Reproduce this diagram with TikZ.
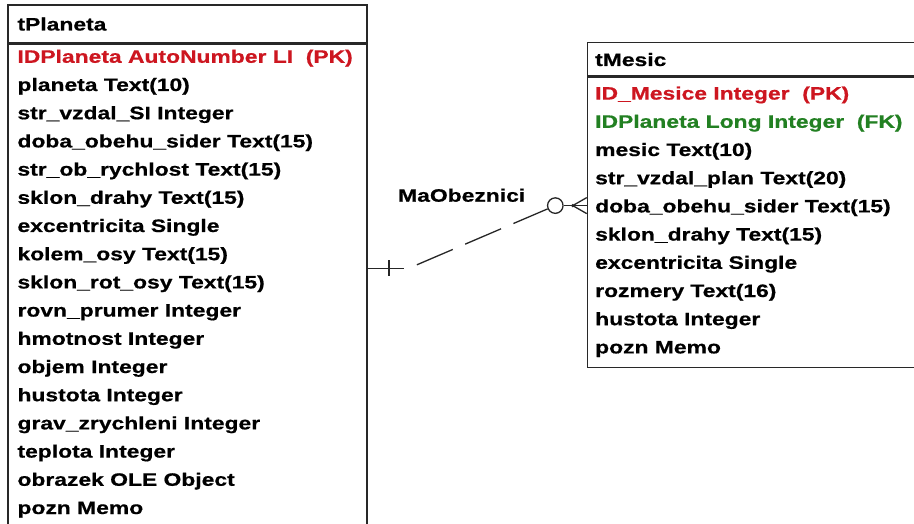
\documentclass[tikz,border=0pt]{standalone}
\usepackage{fontspec}
\usetikzlibrary{calc}
\newfontfamily\erfont{Liberation Sans Bold}[FakeStretch=1.27, FakeBold=0.6]
\definecolor{pkred}{RGB}{205,22,32}
\definecolor{fkgreen}{RGB}{34,128,34}
\definecolor{edgegray}{RGB}{40,40,40}

\begin{document}
\begin{tikzpicture}[x=1pt,y=-1pt,
  tablebox/.style={draw=edgegray, line width=1.6pt, fill=white, rectangle,
    inner sep=0pt, anchor=north west},
  fieldtext/.style={font=\erfont\fontsize{18}{21}\selectfont,
    inner sep=0pt, anchor=base west},
  relline/.style={line width=1.3pt, draw=black!85},
  reldash/.style={relline, dash pattern=on 39pt off 13.5pt}]

\useasboundingbox (0,0) rectangle (914,524);
\clip (0,0) rectangle (914,524);
\fill[white] (0,0) rectangle (914,524);

% ---- table tPlaneta ----
\node[tablebox, minimum width=359pt, minimum height=38pt] (planetaHead) at (7.3,4) {};
\node[tablebox, minimum width=359pt, minimum height=480pt] (planetaBody) at (planetaHead.south west) {};
\node[fieldtext] (planetaTitle) at ($(planetaHead.north west)+(10,26.5)$) {tPlaneta};
\foreach \txt [count=\i] in {
  {\textcolor{pkred}{IDPlaneta AutoNumber LI~~(PK)}},
  planeta Text(10),
  str\_vzdal\_SI Integer,
  doba\_obehu\_sider Text(15),
  str\_ob\_rychlost Text(15),
  sklon\_drahy Text(15),
  excentricita Single,
  kolem\_osy Text(15),
  sklon\_rot\_osy Text(15),
  rovn\_prumer Integer,
  hmotnost Integer,
  objem Integer,
  hustota Integer,
  grav\_zrychleni Integer,
  teplota Integer,
  obrazek OLE Object,
  pozn Memo}
  \node[fieldtext] (pf\i) at ($(planetaBody.north west)+(10,28.2*\i-9)$) {\txt};

% ---- table tMesic ----
\node[tablebox, minimum width=340pt, minimum height=33.3pt] (mesicHead) at (586.7,41.7) {};
\node[tablebox, minimum width=340pt, minimum height=290pt] (mesicBody) at (mesicHead.south west) {};
\node[fieldtext] (mesicTitle) at ($(mesicHead.north west)+(8.3,24.3)$) {tMesic};
\foreach \txt [count=\i] in {
  {\textcolor{pkred}{ID\_Mesice Integer~~(PK)}},
  {\textcolor{fkgreen}{IDPlaneta Long Integer~~(FK)}},
  mesic Text(10),
  str\_vzdal\_plan Text(20),
  doba\_obehu\_sider Text(15),
  sklon\_drahy Text(15),
  excentricita Single,
  rozmery Text(16),
  hustota Integer,
  pozn Memo}
  \node[fieldtext] (mf\i) at ($(mesicBody.north west)+(8.3,28.2*\i-5.2)$) {\txt};

% ---- relationship MaObeznici (one tPlaneta : many tMesic) ----
\coordinate (oneEnd) at ($(planetaBody.north east)+(0,224.7)$);
\coordinate (oneTip) at ($(oneEnd)+(36,0)$);
\coordinate (oneBarTop) at ($(oneEnd)+(21,-8)$);
\coordinate (oneBarBot) at ($(oneEnd)+(21,8)$);
\coordinate (dashStart) at ($(oneEnd)+(49,-3.5)$);
\node[circle, draw=black!85, line width=1.3pt, minimum size=15.5pt, inner sep=0pt]
  (optCircle) at ($(mesicBody.north west)+(-31.4,129)$) {};
\coordinate (crowRoot) at ($(mesicBody.north west)+(-14,129)$);
\coordinate (crowTop) at ($(mesicBody.north west)+(0,121)$);
\coordinate (crowMid) at ($(mesicBody.north west)+(0,129)$);
\coordinate (crowBot) at ($(mesicBody.north west)+(0,137)$);

\draw[relline] (oneEnd) -- (oneTip);
\draw[relline] (oneBarTop) -- (oneBarBot);
\draw[reldash] (dashStart) -- (optCircle);
\draw[relline] (optCircle.east) -- (crowRoot);
\fill[black!85] (crowRoot) circle (1.8pt);
\draw[relline] (crowRoot) -- (crowTop);
\draw[relline] (crowRoot) -- (crowMid);
\draw[relline] (crowRoot) -- (crowBot);

\node[fieldtext] (relLabel) at (398,201.7) {MaObeznici};

\end{tikzpicture}
\end{document}
